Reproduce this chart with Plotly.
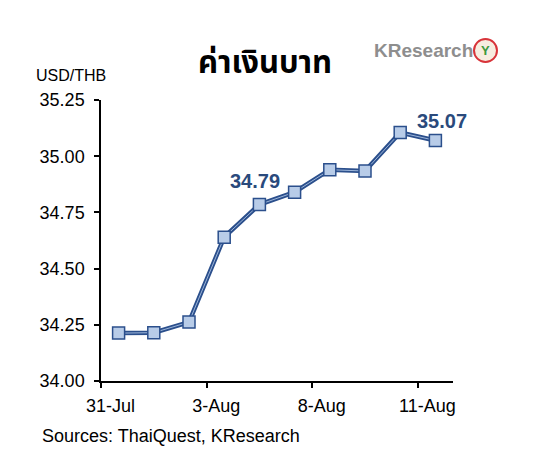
import plotly.graph_objects as go

categories = ["31-Jul", "1-Aug", "2-Aug", "3-Aug", "4-Aug", "7-Aug", "8-Aug", "9-Aug", "10-Aug", "11-Aug"]
values = [34.213, 34.215, 34.262, 34.640, 34.785, 34.840, 34.940, 34.934, 35.105, 35.070]
label_idx = [4, 9]
label_texts = ["34.79", "35.07"]
tick_idx = [0, 3, 6, 9]
y_ticks = [34.00, 34.25, 34.50, 34.75, 35.00, 35.25]

x = list(range(len(categories)))
dark = "#2B4F8C"
fill = "#B8CCE8"
label_color = "#2A4A7C"
label_xshift = [-4, 7]
label_yshift = [11, 6]

fig = go.Figure()
fig.add_trace(go.Scatter(x=x, y=values, mode="lines",
                         line=dict(color=dark, width=4.5), hoverinfo="skip"))
fig.add_trace(go.Scatter(x=x, y=values, mode="lines+markers",
                         line=dict(color="#9DB6DA", width=1),
                         marker=dict(symbol="square", size=12, color=fill,
                                     line=dict(color=dark, width=1.5))))

for k, (i, t) in enumerate(zip(label_idx, label_texts)):
    fig.add_annotation(x=x[i], y=values[i], text=f"<b>{t}</b>", showarrow=False,
                       xanchor="center", yanchor="bottom",
                       yshift=label_yshift[k], xshift=label_xshift[k],
                       font=dict(family="Liberation Sans, Arial", size=20, color=label_color))

fig.add_annotation(xref="paper", yref="paper", x=0.465, y=1.0, yshift=37,
                   text="<b>ค่าเงินบาท</b>", showarrow=False, xanchor="center", yanchor="middle",
                   font=dict(family="Noto Sans Thai, Tahoma, Liberation Sans, sans-serif", size=31, color="#000000"))
fig.add_annotation(xref="paper", yref="paper", x=0, y=1.0, xshift=-67, yshift=25,
                   text="USD/THB", showarrow=False, xanchor="left", yanchor="middle",
                   font=dict(family="Liberation Sans, Arial", size=16, color="#000000"))
fig.add_annotation(xref="paper", yref="paper", x=0, y=0, xshift=-61, yshift=-55,
                   text="Sources: ThaiQuest, KResearch", showarrow=False, xanchor="left", yanchor="middle",
                   font=dict(family="Liberation Sans, Arial", size=18, color="#000000"))
# logo
fig.add_annotation(xref="paper", yref="paper", x=1.0, y=1.0, xshift=-81, yshift=50,
                   text="<b>KResearch</b>", showarrow=False, xanchor="left", yanchor="middle",
                   font=dict(family="Liberation Sans Narrow, Liberation Sans, Arial", size=19, color="#8E8E8E"))
fig.add_shape(type="circle", xref="paper", yref="paper", xsizemode="pixel", ysizemode="pixel",
              xanchor=1.0, yanchor=1.0, x0=21, x1=44, y0=38, y1=61,
              line=dict(color="#D8343A", width=2), fillcolor="#F7EDE0", layer="above")
fig.add_annotation(xref="paper", yref="paper", x=1.0, y=1.0, xshift=32.5, yshift=50,
                   text="<b>Y</b>", showarrow=False, xanchor="center", yanchor="middle",
                   font=dict(family="Liberation Sans, Arial", size=13, color="#3D9A3D"))

fig.update_layout(
    width=541, height=469,
    margin=dict(l=101, r=88, t=100, b=88),
    paper_bgcolor="white", plot_bgcolor="white",
    showlegend=False,
    font=dict(family="Liberation Sans, Arial", size=18, color="#000000"),
    xaxis=dict(range=[-0.5, len(categories) - 0.5], tickmode="array",
               tickvals=[x[i] for i in tick_idx], ticktext=[categories[i] for i in tick_idx],
               ticks="", showgrid=False, zeroline=False, showline=True,
               linecolor="#000000", linewidth=1.5,
               tickfont=dict(size=18), ticklabelstandoff=8, ticklabelshift=-8,
               minor=dict(tickmode="array", tickvals=[x[i] - 0.5 for i in tick_idx],
                          ticks="outside", ticklen=5, tickcolor="#000000", tickwidth=1.5)),
    yaxis=dict(range=[34.0, 35.25], tickmode="array", tickvals=y_ticks,
               tickformat=".2f", ticks="outside", ticklen=5, tickcolor="#000000", tickwidth=1.5,
               showgrid=False, zeroline=False, showline=True, linecolor="#000000", linewidth=1.5,
               tickfont=dict(size=18), ticklabelstandoff=6),
)

fig.write_html("out.html")
